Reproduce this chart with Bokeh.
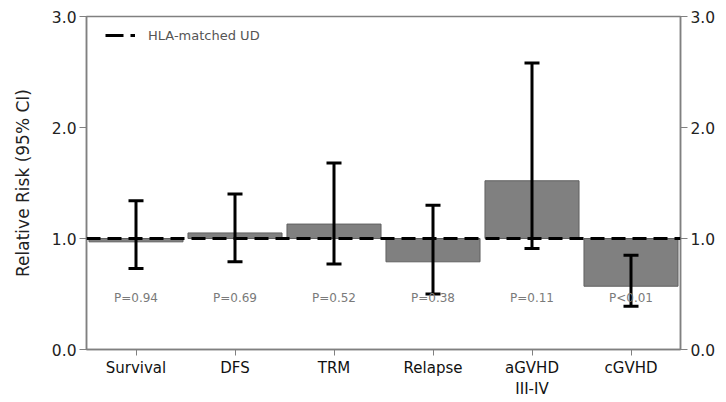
from bokeh.plotting import figure
from bokeh.models import ColumnDataSource, Range1d, FactorRange, LinearAxis, FixedTicker, Legend, LegendItem, Span
from bokeh.core.properties import value
from bokeh.embed import file_html
from bokeh.resources import INLINE

categories = ["Survival", "DFS", "TRM", "Relapse", "aGVHD\nIII-IV", "cGVHD"]
rr = [0.97, 1.05, 1.13, 0.79, 1.52, 0.57]
ci_low = [0.73, 0.79, 0.77, 0.50, 0.91, 0.39]
ci_high = [1.34, 1.40, 1.68, 1.30, 2.58, 0.85]
p_labels = ["P=0.94", "P=0.69", "P=0.52", "P=0.38", "P=0.11", "P<0.01"]
baseline = 1.0
p_label_y = 0.46
y_ticks = [0.0, 1.0, 2.0, 3.0]

FONT = "DejaVu Sans"
AX = "#808080"

src = ColumnDataSource(dict(cat=categories, rr=rr, lo=ci_low, hi=ci_high,
                            base=[baseline] * len(categories), p=p_labels,
                            py=[p_label_y] * len(categories)))

p = figure(width=724, height=401, x_range=FactorRange(*categories, range_padding=0),
           y_range=Range1d(0, 3), output_backend="svg", toolbar_location=None,
           min_border_left=86, min_border_right=44, min_border_top=16, min_border_bottom=52)
p.xgrid.visible = False
p.ygrid.visible = False
p.outline_line_color = AX
p.outline_line_width = 1.5

p.vbar(x="cat", bottom="base", top="rr", width=0.95, source=src,
       fill_color="#808080", line_color="#606060", line_width=1)

p.segment(x0="cat", y0="lo", x1="cat", y1="hi", source=src, line_color="black", line_width=3)
p.rect(x="cat", y="hi", width=15, height=3, width_units="screen", height_units="screen",
       source=src, fill_color="black", line_color=None)
p.rect(x="cat", y="lo", width=15, height=3, width_units="screen", height_units="screen",
       source=src, fill_color="black", line_color=None)

ref = Span(location=baseline, dimension="width", line_color="black", line_width=3, line_dash="14 7")
p.add_layout(ref)

p.text(x="cat", y="py", text="p", source=src, text_align="center", text_baseline="middle",
       text_font=value(FONT), text_font_size="12px", text_color="#7a7a7a")

leg_r = p.line(x=[categories[0]], y=[float("nan")], line_color="black", line_width=3, line_dash="18 7")
legend = Legend(items=[LegendItem(label="HLA-matched UD", renderers=[leg_r])],
                location=(19, 304), padding=0, margin=0, spacing=0,
                border_line_color=None, background_fill_alpha=0,
                glyph_width=30, glyph_height=20, label_standoff=13,
                label_text_font=FONT, label_text_font_size="13px", label_text_color="#555555")
p.add_layout(legend)

def style_y(ax):
    ax.ticker = FixedTicker(ticks=y_ticks)
    ax.major_label_overrides = {t: f"{t:.1f}" for t in y_ticks}
    ax.axis_line_color = AX
    ax.axis_line_width = 1.5
    ax.major_tick_line_color = AX
    ax.major_tick_out = 7
    ax.major_tick_in = 0
    ax.minor_tick_line_color = None
    ax.major_label_text_font = FONT
    ax.major_label_text_font_size = "15.5px"
    ax.major_label_text_color = "#222222"
    ax.major_label_standoff = 3

style_y(p.yaxis[0])
p.yaxis[0].axis_label = "Relative Risk (95% CI)"
p.yaxis[0].axis_label_text_font = FONT
p.yaxis[0].axis_label_text_font_style = "normal"
p.yaxis[0].axis_label_text_font_size = "17px"
p.yaxis[0].axis_label_text_color = "#222222"
p.yaxis[0].axis_label_standoff = 16

right = LinearAxis()
style_y(right)
p.add_layout(right, "right")

xa = p.xaxis[0]
xa.axis_line_color = AX
xa.axis_line_width = 1.5
xa.major_tick_line_color = AX
xa.major_tick_out = 6
xa.major_tick_in = 0
xa.major_label_text_font = FONT
xa.major_label_text_font_size = "15px"
xa.major_label_text_color = "#111111"
xa.major_label_standoff = 3

open("out.html", "w").write(file_html(p, INLINE))
